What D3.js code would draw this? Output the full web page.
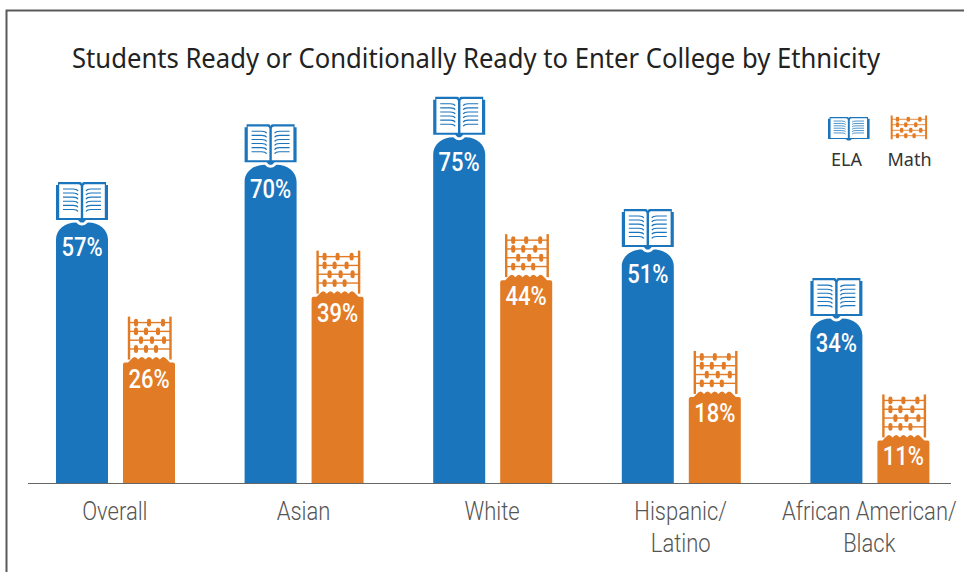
<!DOCTYPE html>
<html><head><meta charset="utf-8">
<script src="https://cdn.jsdelivr.net/npm/d3@7/dist/d3.min.js"></script>
<style>html,body{margin:0;padding:0;background:#fff}svg{display:block}</style></head>
<body><div id="c"></div>
<script>
const categories = [["Overall"],["Asian"],["White"],["Hispanic/","Latino"],["African American/","Black"]];
const categoryKeys = ["Overall","Asian","White","Hispanic","African American"];
const elaLabels = ["57%","70%","75%","51%","34%"];
const mathLabels = ["26%","39%","44%","18%","11%"];
// drawn heights (the source art is not strictly proportional)
const elaHeights = [57, 69.6, 75.6, 51.1, 36];
const mathHeights = [26.4, 40.8, 44.4, 18.9, 9.4];
const title = "Students Ready or Conditionally Ready to Enter College by Ethnicity";
const BLUE="#1b75bc", ORANGE="#e27b25", COND="Roboto,sans-serif";

const W=964,H=572,base=483.5;
const svg=d3.select("#c").append("svg").attr("width",W).attr("height",H);
const x=d3.scaleBand().domain(categoryKeys).range([20.6,963.6]);
const inner=d3.scaleBand().domain(["ela","math"]).range([35.4,154.4]).paddingInner(15/67);
const y=d3.scaleLinear().domain([0,75]).range([base,base-75*4.58]);
const bw=inner.bandwidth();

// frame
svg.append("path").attr("d",`M6.5,572V10.5H964`).attr("fill","none").attr("stroke","#5a5a5a").attr("stroke-width",2);
svg.append("text").attr("x",72).attr("y",67.5)
  .attr("textLength",808).attr("lengthAdjust","spacingAndGlyphs")
  .attr("font-family","'Noto Sans',sans-serif").attr("font-size",26.5).attr("fill","#222").text(title);

const pageRows=d3.range(6);
function book(g,sx,sy,col){ // local geometry, origin top-left, 52 units wide
  const n=g.append("g").attr("transform",`scale(${sx},${sy})`);
  n.append("path").attr("fill",col).attr("d","M2,0H24Q26,0 26,2Q26,0 28,0H50V3H52V38H30L27.5,40.5H24.5L22,38H0V3H2Z");
  n.append("path").attr("fill","#fff").attr("d","M3.2,2.2H22.5Q24.8,2.2 24.8,5V36H3.2Z M48.8,2.2H29.5Q27.2,2.2 27.2,5V36H48.8Z");
  pageRows.forEach(i=>{
    const yy=7+i*4.1;
    n.append("path").attr("fill","none").attr("stroke",col).attr("stroke-width",1.1).attr("d",`M7,${yy}H17Q21,${yy} 22,${yy+2}`);
    n.append("path").attr("fill","none").attr("stroke",col).attr("stroke-width",1.1).attr("d",`M45,${yy}H35Q31,${yy} 30,${yy+2}`);
  });
}
const beads=[[13,26,40],[13,23,35],[18,29,41],[13,23,33]];
function abacus(g,sx,sy,col,h){ // local geometry, origin top-left, 52 units wide
  const n=g.append("g").attr("transform",`scale(${sx},${sy})`);
  [6,47.5].forEach(px=>n.append("rect").attr("x",px-1.2).attr("y",0).attr("width",2.4).attr("height",h).attr("fill",col));
  beads.forEach((r,i)=>{
    const yy=6+i*8.8;
    n.append("rect").attr("x",6).attr("y",yy-0.7).attr("width",41.5).attr("height",1.4).attr("fill",col);
    r.forEach(b=>n.append("rect").attr("x",b-2).attr("y",yy-3.9).attr("width",4).attr("height",7.8).attr("rx",2).attr("fill",col));
  });
}
function blueBar(x0,t){
  const w=bw,c=x0+w/2;
  return `M${x0},${base}V${t+17}C${x0},${t+7} ${x0+9},${t} ${x0+20},${t}C${c-5},${t} ${c-4},${t+3} ${c},${t+3}C${c+4},${t+3} ${c+5},${t} ${x0+w-20},${t}C${x0+w-9},${t} ${x0+w},${t+7} ${x0+w},${t+17}V${base}Z`;
}
function orangeBar(x0,t){
  const w=bw; let d=`M${x0},${base}V${t+2}Q${x0},${t} ${x0+2},${t}L${x0+5},${t}L${x0+8},${t-3}`;
  const n=5,st=(w-16)/n;
  for(let i=0;i<n;i++){const a=x0+8+i*st; d+=`Q${a+st/2},${t-8} ${a+st},${t-3}`;}
  d+=`L${x0+w-5},${t}L${x0+w-2},${t}Q${x0+w},${t} ${x0+w},${t+2}V${base}Z`;
  return d;
}

const groups=svg.selectAll("g.cat").data(categoryKeys).join("g").attr("class","cat")
  .attr("transform",d=>`translate(${x(d)},0)`);
groups.append("path").attr("fill",BLUE).attr("d",(d,i)=>blueBar(inner("ela"),y(elaHeights[i])));
groups.append("path").attr("fill",ORANGE).attr("d",(d,i)=>orangeBar(inner("math"),y(mathHeights[i])));
groups.each(function(d,i){
  const g=d3.select(this);
  book(g.append("g").attr("transform",`translate(${inner("ela")},${y(elaHeights[i])-40.5})`),bw/52,1,BLUE);
  abacus(g.append("g").attr("transform",`translate(${inner("math")},${y(mathHeights[i])-46})`),bw/52,1,ORANGE,43);
});
const vlab=(sel,k,labels,hs,dy)=>sel.append("text")
  .attr("transform",(d,i)=>`translate(${inner(k)+bw/2},${y(hs[i])+dy}) scale(.88,1)`)
  .attr("text-anchor","middle").attr("font-family",COND).attr("font-weight",500).attr("font-size",25)
  .attr("fill","#fff").text((d,i)=>labels[i]);
vlab(groups,"ela",elaLabels,elaHeights,33.5);
vlab(groups,"math",mathLabels,mathHeights,25);

// baseline and category axis
svg.append("line").attr("x1",28).attr("x2",951).attr("y1",base).attr("y2",base).attr("stroke","#666").attr("stroke-width",1.2);
const ax=svg.append("g").attr("transform",`translate(0,${base})`).call(d3.axisBottom(x).tickSize(0));
ax.select(".domain").remove();
ax.selectAll(".tick text").each(function(d,i){
  const t=d3.select(this).text(null).attr("y",null).attr("dy",null).attr("transform","scale(.88,1)")
    .attr("font-family",COND).attr("font-weight",300).attr("font-size",25).attr("fill","#555");
  categories[i].forEach((s,j)=>t.append("tspan").attr("x",0).attr("y",37+j*32).text(s));
});

// legend
const lg=svg.append("g");
book(lg.append("g").attr("transform","translate(828,117)"),0.8,0.58,BLUE);
abacus(lg.append("g").attr("transform","translate(886.7,115.5)"),0.83,0.625,ORANGE,38);
[["ELA",846.5],["Math",909.5]].forEach(([s,px])=>lg.append("text").attr("x",px).attr("y",166).attr("text-anchor","middle")
  .attr("font-family","'Noto Sans',sans-serif").attr("font-size",18).attr("fill","#333").text(s));
</script></body></html>
